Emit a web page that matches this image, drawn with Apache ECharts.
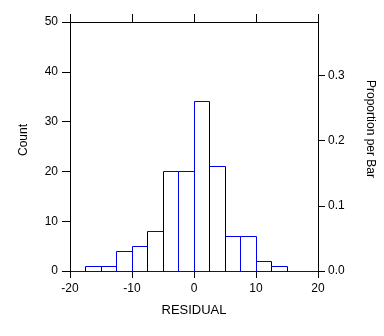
<!DOCTYPE html>
<html>
<head>
<meta charset="utf-8">
<script src="https://cdn.jsdelivr.net/npm/echarts@6/dist/echarts.min.js"></script>
<style>
  html, body { margin: 0; padding: 0; background: #fff; }
  #chart { width: 384px; height: 336px; }
</style>
</head>
<body>
<div id="chart"></div>
<script>
// Histogram of residuals: bin left edges, bin width and counts per bin
const binLeft = [-17.5, -15, -12.5, -10, -7.5, -5, -2.5, 0, 2.5, 5, 7.5, 10, 12.5];
const binWidth = 2.5;
const counts = [1, 1, 4, 5, 8, 20, 20, 34, 21, 7, 7, 2, 1];

// Axis ticks
const xTicks = [-20, -10, 0, 10, 20];
const countTicks = [0, 10, 20, 30, 40, 50];
const propTicks = [0, 0.1, 0.2, 0.3];

const total = counts.reduce((a, b) => a + b, 0);
const countMax = countTicks[countTicks.length - 1];

const FONT = 'Liberation Sans, Arial, sans-serif';
const BLUE = '#0000f0';
const BLACK = '#000000';

const data = binLeft.map((x0, i) => [x0, x0 + binWidth, counts[i], i]);

function crisp(v) { return Math.round(v - 0.5) + 0.5; }

function renderBar(params, api) {
  const x0 = api.value(0), x1 = api.value(1), h = api.value(2), idx = api.value(3);
  const pL = api.coord([x0, 0]);
  const pR = api.coord([x1, 0]);
  const pT = api.coord([x0, h]);
  const xl = crisp(pL[0]), xr = crisp(pR[0]);
  const yb = crisp(pL[1]), yt = crisp(pT[1]);
  // vertical edges alternate in pairs between black and blue
  const edgeColor = (e) => (Math.floor(e / 2) % 2 ? BLUE : BLACK);
  return {
    type: 'group',
    children: [
      { type: 'line', shape: { x1: xl, y1: yb, x2: xl, y2: yt },
        style: { stroke: edgeColor(idx), lineWidth: 1 } },
      { type: 'line', shape: { x1: xr, y1: yb, x2: xr, y2: yt },
        style: { stroke: edgeColor(idx + 1), lineWidth: 1 } },
      { type: 'line', shape: { x1: xl, y1: yt, x2: xr, y2: yt },
        style: { stroke: BLUE, lineWidth: 1 } }
    ]
  };
}

const chart = echarts.init(document.getElementById('chart'), null, { renderer: 'canvas' });

const labelStyle = { color: '#000', fontFamily: FONT, fontSize: 12 };

chart.setOption({
  animation: false,
  backgroundColor: '#fff',
  grid: { left: 70, right: 66, top: 22, bottom: 65 },
  xAxis: [
    {
      type: 'value', position: 'bottom',
      min: xTicks[0], max: xTicks[xTicks.length - 1], interval: 10,
      name: 'RESIDUAL', nameLocation: 'middle', nameGap: 33,
      nameTextStyle: { color: '#000', fontFamily: FONT, fontSize: 13 },
      axisLine: { show: true, onZero: false, lineStyle: { color: BLUE, width: 1 } },
      axisTick: { show: true, length: 7, lineStyle: { color: BLACK } },
      axisLabel: Object.assign({ margin: 12 }, labelStyle),
      splitLine: { show: false }
    },
    {
      type: 'value', position: 'top',
      min: xTicks[0], max: xTicks[xTicks.length - 1], interval: 10,
      axisLine: { show: true, onZero: false, lineStyle: { color: BLACK, width: 1 } },
      axisTick: { show: true, length: 8, lineStyle: { color: BLACK } },
      axisLabel: { show: false },
      splitLine: { show: false }
    }
  ],
  yAxis: [
    {
      type: 'value', position: 'left',
      min: 0, max: countMax, interval: 10,
      axisLine: { show: true, onZero: false, lineStyle: { color: BLACK, width: 1 } },
      axisTick: { show: true, length: 8, lineStyle: { color: BLACK } },
      axisLabel: Object.assign({ margin: 12 }, labelStyle),
      splitLine: { show: false }
    },
    {
      type: 'value', position: 'right',
      min: 0, max: countMax / total,
      axisLine: { show: true, onZero: false, lineStyle: { color: BLACK, width: 1 } },
      axisTick: { show: true, length: 7, customValues: propTicks, lineStyle: { color: BLACK } },
      axisLabel: Object.assign({ margin: 10, customValues: propTicks,
        formatter: (v) => v.toFixed(1) }, labelStyle),
      splitLine: { show: false }
    }
  ],
  graphic: [
    { type: 'text', x: 24, y: 140, rotation: Math.PI / 2,
      style: { text: 'Count', fill: '#000', font: '12px ' + FONT,
        align: 'center', verticalAlign: 'middle' } },
    { type: 'text', x: 370, y: 129, rotation: -Math.PI / 2,
      style: { text: 'Proportion per Bar', fill: '#000', font: '12px ' + FONT,
        align: 'center', verticalAlign: 'middle' } }
  ],
  series: [
    {
      type: 'custom',
      xAxisIndex: 0, yAxisIndex: 0,
      renderItem: renderBar,
      encode: { x: [0, 1], y: 2 },
      data: data,
      z: 1
    }
  ]
});
</script>
</body>
</html>
